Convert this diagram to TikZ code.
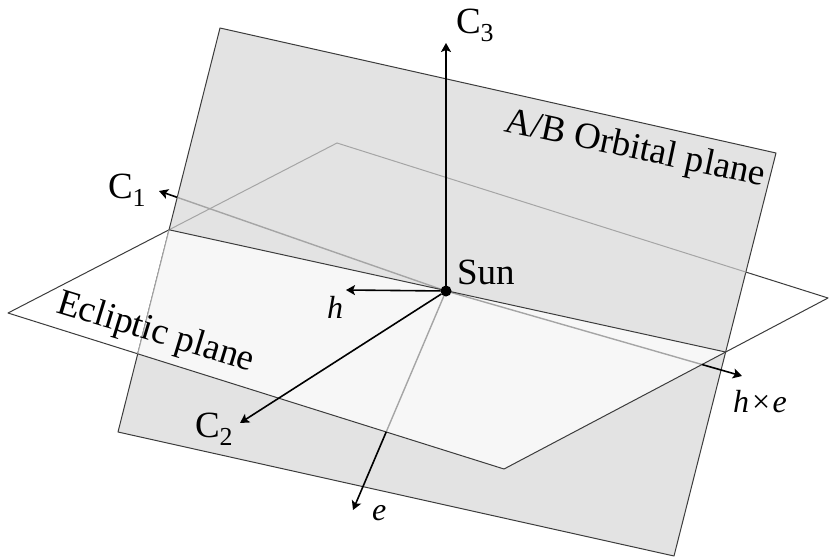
\documentclass[tikz,border=0pt]{standalone}
\usepackage{fontspec}
\setmainfont{Liberation Serif}
\usetikzlibrary{arrows.meta, positioning, calc}
\definecolor{orbitgray}{RGB}{227, 227, 227}
\definecolor{eclipticwhite}{RGB}{247, 247, 247}
\definecolor{edgedark}{RGB}{60, 60, 60}
\definecolor{hiddengray}{RGB}{165, 165, 165}
\pgfdeclarelayer{background}
\pgfsetlayers{background,main}

\begin{document}
\begin{tikzpicture}[
    x=1pt, y=-1pt,
    every node/.style={inner sep=0pt, outer sep=0pt},
    planeedge/.style={draw=edgedark, line width=1pt, line join=round},
    hidden/.style={draw=hiddengray, line width=1pt},
    axis/.style={draw=black, line width=1.6pt, -{Stealth[length=9pt, width=10pt, inset=2pt]}},
    axishidden/.style={draw=hiddengray, line width=1.4pt},
    sundot/.style={circle, fill=black, minimum size=11pt},
    lbl/.style={font=\fontsize{37}{40}\selectfont, anchor=base west},
    vlbl/.style={font=\fontsize{32}{36}\selectfont\itshape, anchor=base west}
]
\useasboundingbox (0, 0) rectangle (829, 557);

% orbital plane and ecliptic plane corners
\coordinate (O1) at (220, 28);
\coordinate (O2) at (776, 153);
\coordinate (O3) at (674, 556);
\coordinate (O4) at (118, 432);
\coordinate (EL) at (8, 313);
\coordinate (ET) at (337, 143);
\coordinate (ER) at (828, 298);
\coordinate (EB) at (504, 469);
\coordinate (P1) at (intersection of O1--O4 and EL--ET);
\coordinate (P2) at (intersection of O1--O4 and EL--EB);
\coordinate (P3) at (intersection of O2--O3 and EB--ER);
\coordinate (P4) at (intersection of O2--O3 and ET--ER);

\node[sundot] (sun) at (446, 291) {};

% axis tips
\coordinate (c1tip) at (159, 191);
\coordinate (c2tip) at (240, 423);
\coordinate (c3tip) at (446, 43);
\coordinate (htip) at (346, 290);
\coordinate (etip) at (353, 510);
\coordinate (hetip) at (742, 376);
\coordinate (q1) at (intersection of sun.center--c1tip and O1--O4);
\coordinate (qe) at (intersection of sun.center--etip and EL--EB);
\coordinate (qhe) at (intersection of sun.center--hetip and EB--ER);

\begin{pgfonlayer}{background}
\path[planeedge, fill=white] (EL) -- (ET) -- (ER) -- (EB) -- cycle;
\path[planeedge, fill=orbitgray] (O1) -- (O2) -- (O3) -- (O4) -- cycle;
\draw[hidden] (P1) -- (ET) -- (P4);
\draw[axishidden] (sun.center) -- (q1);
\fill[eclipticwhite] (P1) -- (P2) -- (EB) -- (P3) -- cycle;
\draw[hidden] (P1) -- (P2);
\draw[axishidden] (sun.center) -- (qe);
\draw[axishidden] (sun.center) -- (qhe);
\draw[planeedge] (P2) -- (EB) -- (P3);
\draw[planeedge] (P1) -- (P3);
\end{pgfonlayer}

\draw[axis] (sun) -- (c3tip);
\draw[axis] (sun) -- (htip);
\draw[axis] (sun) -- (c2tip);
\draw[axis] (q1) -- (c1tip);
\draw[axis] (qe) -- (etip);
\draw[axis] (qhe) -- (hetip);

\node[lbl] (sunlbl) at (457, 284) {Sun};
\node[lbl] (c1lbl) at (108, 198) {C\textsubscript{1}};
\node[lbl] (c2lbl) at (195, 437) {C\textsubscript{2}};
\node[lbl] (c3lbl) at (456, 33) {C\textsubscript{3}};
\node[vlbl] (hlbl) at (327, 318) {h};
\node[vlbl] (elbl) at (372, 520) {e};
\node[vlbl] (helbl) at (733, 412) {h\kern1pt×\kern1pt e};
\node[lbl, rotate=-12] (orbitlbl) at (503, 131) {A/B Orbital plane};
\node[lbl, rotate=-17] (eclipticlbl) at (55, 312) {Ecliptic plane};
\end{tikzpicture}
\end{document}
